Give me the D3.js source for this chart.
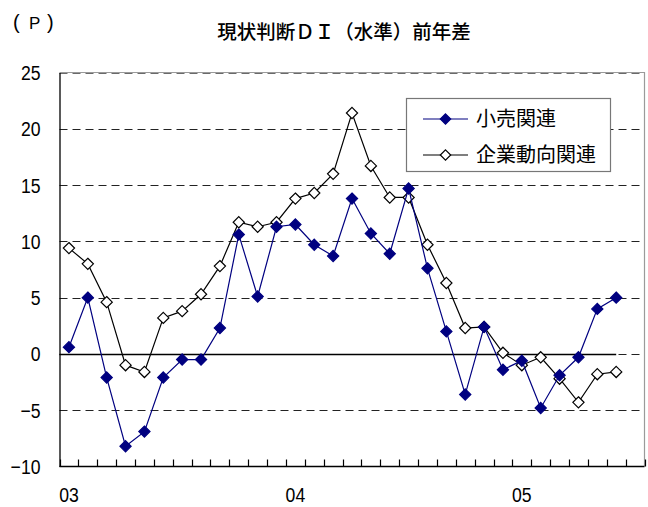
<!DOCTYPE html>
<html>
<head>
<meta charset="utf-8">
<script src="https://cdn.jsdelivr.net/npm/d3@7"></script>
<style>
  html, body { margin: 0; padding: 0; background: #fff; }
  svg { display: block; }
</style>
</head>
<body>
<svg id="chart" width="648" height="507"></svg>
<script>
// Monthly categories, Jan 2003 – Jul 2005 (last slot left empty)
const months = [
  "2003-01","2003-02","2003-03","2003-04","2003-05","2003-06","2003-07","2003-08","2003-09","2003-10","2003-11","2003-12",
  "2004-01","2004-02","2004-03","2004-04","2004-05","2004-06","2004-07","2004-08","2004-09","2004-10","2004-11","2004-12",
  "2005-01","2005-02","2005-03","2005-04","2005-05","2005-06","2005-07"
];
// Year labels placed under January of each year
const yearTicks = ["2003-01", "2004-01", "2005-01"];
const yearLabels = ["03", "04", "05"];

// 小売関連
const retail = [
  0.6, 5.0, -2.1, -8.2, -6.9, -2.1, -0.5, -0.5, 2.3, 10.6, 5.1, 11.3,
  11.5, 9.7, 8.7, 13.8, 10.7, 8.9, 14.7, 7.6, 2.0, -3.6, 2.4, -1.4,
  -0.6, -4.8, -1.9, -0.3, 4.0, 5.0
];
// 企業動向関連
const corporate = [
  9.4, 8.0, 4.6, -1.0, -1.6, 3.2, 3.8, 5.3, 7.8, 11.7, 11.3, 11.7,
  13.8, 14.3, 16.0, 21.4, 16.7, 13.9, 13.9, 9.7, 6.3, 2.3, 2.4, 0.1,
  -1.0, -0.3, -2.2, -4.3, -1.8, -1.6
];

const yTicks = [-10, -5, 0, 5, 10, 15, 20, 25];
const seriesNames = ["小売関連", "企業動向関連"];

const svg = d3.select("#chart");
const plot = { left: 59.5, right: 644.5, top: 72.5, bottom: 466.5 };

const x = d3.scaleBand().domain(months).range([plot.left, plot.right]).paddingInner(0).paddingOuter(0);
const y = d3.scaleLinear().domain([-10, 25]).range([plot.bottom, plot.top]);
const cx = m => x(m) + x.bandwidth() / 2;

const numFont = "'Liberation Sans', Arial, sans-serif";
const jpFont = "'Noto Sans CJK JP', 'Noto Sans', sans-serif";
const narrow = 0.84; // horizontal squeeze for the numeric labels

// Plot frame (top and right in grey)
svg.append("path")
  .attr("d", `M${plot.left},${plot.top}H${plot.right}V${plot.bottom}`)
  .attr("fill", "none").attr("stroke", "#9a9a9a").attr("stroke-width", 1.2);

// Dashed horizontal gridlines
svg.append("g").selectAll("line")
  .data(yTicks.filter(v => v > -10))
  .join("line")
  .attr("x1", plot.left).attr("x2", plot.right)
  .attr("y1", d => Math.round(y(d)) + 0.5).attr("y2", d => Math.round(y(d)) + 0.5)
  .attr("stroke", d => d === 25 ? "#6a6a6a" : "#222")
  .attr("stroke-width", 1)
  .attr("stroke-dasharray", "8,5");

// Solid zero reference line across the data range
svg.append("line")
  .attr("x1", plot.left).attr("x2", cx(months[retail.length - 1]))
  .attr("y1", Math.round(y(0)) + 0.5).attr("y2", Math.round(y(0)) + 0.5)
  .attr("stroke", "#000").attr("stroke-width", 1.3);

// Y axis
const yAxis = d3.axisLeft(y).tickValues(yTicks).tickSize(0).tickPadding(0)
  .tickFormat(d => d < 0 ? "\u2212" + Math.abs(d) : d);
const gy = svg.append("g").attr("transform", `translate(${plot.left},0)`).call(yAxis);
gy.select(".domain").attr("stroke", "#000").attr("stroke-width", 1.3);
gy.selectAll(".tick")
  .attr("transform", d => `translate(-19,${y(d)}) scale(${narrow},1)`);
gy.selectAll("text")
  .attr("x", 0)
  .attr("font-family", numFont).attr("font-size", 21).attr("fill", "#000").attr("dy", "0.36em");

// X axis: inward ticks at month boundaries
const bounds = months.map(m => x(m)).concat([plot.right]);
svg.append("g").selectAll("line")
  .data(bounds)
  .join("line")
  .attr("x1", d => Math.round(d) + 0.5).attr("x2", d => Math.round(d) + 0.5)
  .attr("y1", plot.bottom).attr("y2", plot.bottom - 7)
  .attr("stroke", "#000").attr("stroke-width", 1.2);
svg.append("line")
  .attr("x1", plot.left).attr("x2", plot.right)
  .attr("y1", plot.bottom).attr("y2", plot.bottom)
  .attr("stroke", "#000").attr("stroke-width", 1.5);

svg.append("g").selectAll("text")
  .data(yearTicks)
  .join("text")
  .attr("transform", d => `translate(${cx(d)},502) scale(${narrow},1)`)
  .attr("text-anchor", "middle")
  .attr("font-family", numFont).attr("font-size", 21).attr("fill", "#000")
  .text((d, i) => yearLabels[i]);

// Series lines and markers
const diamond = (s) => `M0,${-s}L${s},0L0,${s}L${-s},0Z`;
const line = d3.line().x((d, i) => cx(months[i])).y(d => y(d));

function drawSeries(values, stroke, width, fill, markerStroke) {
  svg.append("path").datum(values)
    .attr("d", line).attr("fill", "none")
    .attr("stroke", stroke).attr("stroke-width", width);
  svg.append("g").selectAll("path")
    .data(values)
    .join("path")
    .attr("transform", (d, i) => `translate(${cx(months[i])},${y(d)})`)
    .attr("d", diamond(5.6))
    .attr("fill", fill)
    .attr("stroke", markerStroke).attr("stroke-width", 1.2);
}
drawSeries(corporate, "#000", 1.2, "#fff", "#000");
drawSeries(retail, "#000080", 1.2, "#000080", "#000080");

// Title
svg.append("text")
  .attr("x", 344).attr("y", 39)
  .attr("text-anchor", "middle")
  .attr("font-family", jpFont).attr("font-size", 19.5).attr("font-weight", 500).attr("fill", "#000")
  .text("現状判断ＤＩ（水準）前年差");

// Unit label (P), set with wide spacing between the brackets
const unit = svg.append("text").attr("y", 29).attr("font-family", numFont).attr("fill", "#000");
unit.append("tspan").attr("x", 13).attr("font-size", 20).text("(");
unit.append("tspan").attr("x", 29).attr("font-size", 17).text("P");
unit.append("tspan").attr("x", 47).attr("font-size", 20).text(")");

// Legend
const lg = svg.append("g");
lg.append("rect")
  .attr("x", 406.5).attr("y", 98.5).attr("width", 204).attr("height", 73)
  .attr("fill", "#fff").attr("stroke", "#777").attr("stroke-width", 1.2);
const legendRows = [
  { name: seriesNames[0], stroke: "#000080", fill: "#000080", yy: 119 },
  { name: seriesNames[1], stroke: "#000", fill: "#fff", yy: 155 }
];
legendRows.forEach(r => {
  lg.append("line").attr("x1", 423).attr("x2", 468).attr("y1", r.yy).attr("y2", r.yy)
    .attr("stroke", r.stroke).attr("stroke-width", 1.2);
  lg.append("path").attr("transform", `translate(445.5,${r.yy})`).attr("d", diamond(5.2))
    .attr("fill", r.fill).attr("stroke", r.stroke).attr("stroke-width", 1.2);
  lg.append("text").attr("x", 476).attr("y", r.yy).attr("dy", "0.36em")
    .attr("font-family", jpFont).attr("font-size", 20).attr("fill", "#000")
    .text(r.name);
});
</script>
</body>
</html>
